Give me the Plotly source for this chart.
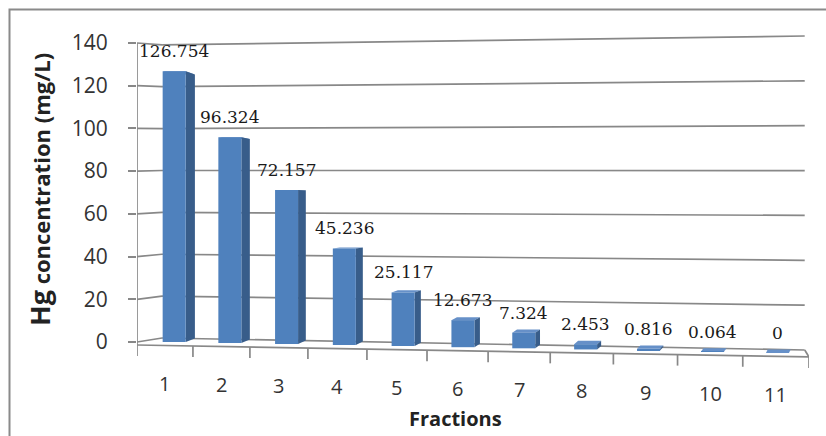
import plotly.graph_objects as go

# ---- data ----
fractions = ["1", "2", "3", "4", "5", "6", "7", "8", "9", "10", "11"]
hg_conc = [126.754, 96.324, 72.157, 45.236, 25.117, 12.673, 7.324, 2.453, 0.816, 0.064, 0]
y_ticks = [0, 20, 40, 60, 80, 100, 120, 140]

# ---- page geometry ----
W, H = 826, 436
ML, MR, MT, MB = 137, 17, 26, 51
PLOT_W, PLOT_H = W - ML - MR, H - MT - MB
PX_ZERO, PX_TOP = 342, 43                      # pixel rows of the 0 and 140 ticks
PPU = (PX_ZERO - PX_TOP) / 140                 # pixels per mg/L
Y_TOP = 140 + (PX_TOP - MT) / PPU
Y_BOT = Y_TOP - PLOT_H / PPU
X_LO, X_HI = 0.5, 11.5
PPX = PLOT_W / (X_HI - X_LO)                   # pixels per category slot

def px(n):
    """pixels -> y data units"""
    return n / PPU

def paper_x(p):
    return (p - ML) / PLOT_W

def paper_y(p):
    return (H - MB - p) / PLOT_H

# pseudo-3D perspective helpers
WARP = 0.255
def slot_x(t):
    """slot boundary coordinate t (0..11) -> x position with perspective spacing"""
    return t + 0.5 - WARP * (1 - ((t - 5.5) / 5.5) ** 2)

BACK_L, BACK_R = 0.91, 11.43                   # x of back wall ends
def wall_left(v):
    return (PX_ZERO - (338 - v * 2.094)) / PPU

def wall_right(v):
    return (PX_ZERO - (350 - v * 2.243)) / PPU

F_L, F_R = -1.4, -7.0                          # front floor edge levels
def front(x):
    return F_L + (x - X_LO) / (X_HI - X_LO) * (F_R - F_L)

def back(x):
    return wall_left(0) + (x - BACK_L) / (BACK_R - BACK_L) * (wall_right(0) - wall_left(0))

def floor_mid(x):
    return (front(x) + back(x)) / 2

def depth_dy(level):
    return -(level - 65) * 0.025

GRID = "#888888"
FRONT_C, SIDE_C, TOP_C = "#4F81BD", "#385D8A", "#6690C8"
BAR_W = 23 / PPX

n = len(fractions)
label_x = [slot_x(i + 0.5) for i in range(n)]
bar_x = [label_x[i] + 0.165 - 0.0125 * (i + 1) for i in range(n)]
bar_base = [floor_mid(x) for x in bar_x]
side_w = [(10 - 0.75 * (i + 1)) / PPX for i in range(n)]

shapes = []

def seg(x0, y0, x1, y1, color=GRID, width=1.7):
    shapes.append(dict(type="line", xref="x", yref="y", x0=x0, y0=y0, x1=x1, y1=y1,
                       line=dict(color=color, width=width), layer="below"))

# walls: gridlines bending from the side wall onto the back wall
for v in y_ticks:
    seg(X_LO, v, BACK_L, wall_left(v))
    seg(BACK_L, wall_left(v), BACK_R, wall_right(v))

# floor outline, value axis line and category ticks
seg(X_LO, F_L, X_HI, F_R)
seg(BACK_R, wall_right(0), X_HI, F_R)
seg(X_LO, 140, X_LO, F_L)
for k in range(n + 1):
    xt = slot_x(k)
    seg(xt, front(xt), xt, front(xt) - px(11))

# top and side faces of the columns
for i, v in enumerate(hg_conc):
    x0 = bar_x[i] - BAR_W / 2
    x1 = bar_x[i] + BAR_W / 2
    b = bar_base[i]
    dx = side_w[i]
    dt = depth_dy(v)
    db = depth_dy(0)
    top = b + v
    shapes.append(dict(type="path", xref="x", yref="y", layer="below",
                       path=f"M{x0},{top} L{x1},{top} L{x1+dx},{top+dt} L{x0+dx},{top+dt} Z",
                       fillcolor=TOP_C, line=dict(width=0)))
    if v > 0:
        shapes.append(dict(type="path", xref="x", yref="y", layer="below",
                           path=f"M{x1},{b} L{x1},{top} L{x1+dx},{top+dt} L{x1+dx},{b+db} Z",
                           fillcolor=SIDE_C, line=dict(width=0)))

# outer chart border
shapes.append(dict(type="rect", xref="paper", yref="paper",
                   x0=paper_x(9.5), y0=paper_y(500), x1=paper_x(900), y1=paper_y(9.5),
                   line=dict(color="#8a8a8a", width=2), fillcolor="rgba(0,0,0,0)"))

fig = go.Figure(go.Bar(
    x=bar_x, y=hg_conc, base=bar_base, width=BAR_W,
    marker=dict(color=FRONT_C, line=dict(width=0)),
    hoverinfo="skip",
))

annotations = []
for i, v in enumerate(hg_conc):
    annotations.append(dict(x=bar_x[i], y=bar_base[i] + v, xref="x", yref="y",
                            text=f"{v:g}", showarrow=False, yshift=20, yanchor="middle",
                            font=dict(family="DejaVu Serif", size=17, color="#1a1a1a")))
for i, name in enumerate(fractions):
    annotations.append(dict(x=label_x[i], y=front(label_x[i]), xref="x", yref="y",
                            text=name, showarrow=False, yshift=-38, yanchor="middle",
                            borderpad=0,
                            font=dict(family="Open Sans", size=20, color="#333333")))

annotations.append(dict(x=paper_x(455), y=paper_y(418), xref="paper", yref="paper",
                        text="<b>Fractions</b>", showarrow=False, borderpad=0,
                        xanchor="center", yanchor="middle",
                        font=dict(family="Open Sans", size=20, color="#222222")))
annotations.append(dict(x=paper_x(39), y=paper_y(190), xref="paper", yref="paper",
                        text="<b><span style='font-size:27px'>Hg</span> concentration (mg/L)</b>",
                        showarrow=False, textangle=-90,
                        xanchor="center", yanchor="middle",
                        font=dict(family="Open Sans", size=22, color="#222222")))

fig.update_layout(
    width=W, height=H,
    margin=dict(l=ML, r=MR, t=MT, b=MB),
    paper_bgcolor="white", plot_bgcolor="white",
    showlegend=False,
    shapes=shapes,
    annotations=annotations,
    xaxis=dict(range=[X_LO, X_HI], showgrid=False, zeroline=False, showline=False,
               showticklabels=False, ticks=""),
    yaxis=dict(range=[Y_BOT, Y_TOP], tickvals=y_ticks, ticks="outside", ticklen=8,
               tickcolor=GRID, tickwidth=1.7, showgrid=False, zeroline=False,
               showline=False, ticklabelstandoff=16,
               tickfont=dict(family="Open Sans", size=21, color="#333333")),
)

fig.write_html("out.html")
